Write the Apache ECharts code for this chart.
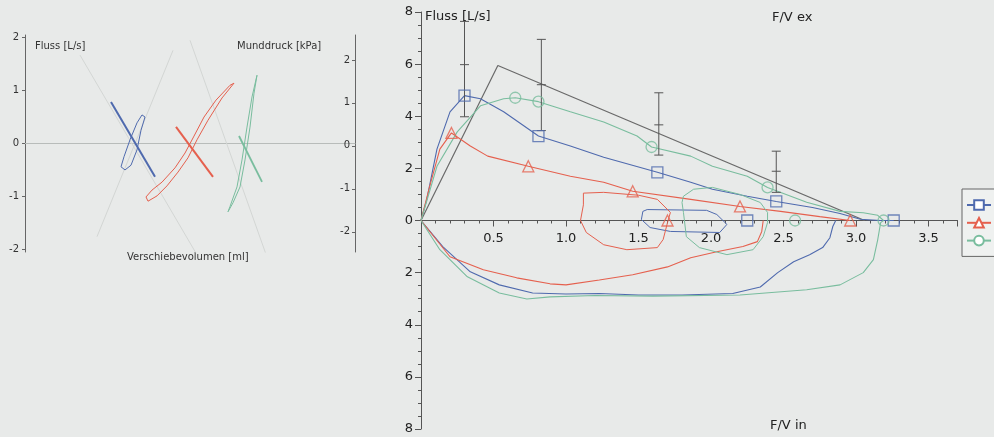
<!DOCTYPE html>
<html><head><meta charset="utf-8">
<script src="https://cdn.jsdelivr.net/npm/echarts@6/dist/echarts.min.js"></script>
<style>html,body{margin:0;padding:0;background:#e8eae9}#c{width:994px;height:437px}</style>
</head><body><div id="c"></div>
<script>
// ---------- Left panel: sRaw loops (flow vs. shift volume) and shutter lines (mouth pressure) ----------
const leftFlowTicks = [-2, -1, 0, 1, 2];
const leftPressTicks = [-2, -1, 0, 1, 2];
const guideA = [[-110, 1.67], [10, -2.2]];
const guideB = [[0, 1.95], [78, -2.2]];
const guideC = [[-93, -1.76], [-17, 1.76]];
const blueLoopL = [[-45, 0.50], [-49, 0.25], [-53, -0.12], [-59, -0.41], [-65, -0.50], [-69, -0.44], [-66, -0.25], [-60, 0.07], [-53, 0.39], [-48, 0.54], [-45, 0.50]];
const redLoopL = [[44, 1.14], [32, 0.86], [18, 0.44], [7, 0.07], [-2, -0.27], [-12, -0.54], [-23, -0.80], [-33, -0.99], [-42, -1.09], [-44, -1.01], [-38, -0.88], [-28, -0.73], [-15, -0.46], [-5, -0.18], [4, 0.14], [14, 0.50], [26, 0.82], [40, 1.10], [44, 1.14]];
const greenLoopL = [[67, 1.29], [64, 0.95], [60, 0.31], [55, -0.31], [50, -0.82], [43, -1.12], [38, -1.29], [40, -1.19], [47, -0.82], [52, -0.31], [57, 0.31], [62, 0.88], [67, 1.29]];
const blueShutter = [[-79, 1.02], [-35, -0.72]];
const redShutter = [[-14, 0.44], [23, -0.72]];
const greenShutter = [[49, 0.23], [72, -0.84]];

// ---------- Right panel: flow-volume curves (expiration up, inspiration down) ----------
const xTickLabels = ['0.5', '1.0', '1.5', '2.0', '2.5', '3.0', '3.5'];
const predicted = [[0, 0], [0.53, 5.95], [3.06, 0]];
// [volume, low, mid, high]
const errorBars = [[0.30, 3.98, 5.98, 7.64], [0.83, 3.45, 5.21, 6.95], [1.64, 2.51, 3.67, 4.90], [2.45, 1.08, 1.89, 2.66]];

const blueEx = [[0, 0], [0.04, 0.81], [0.11, 2.74], [0.20, 4.17], [0.30, 4.79], [0.41, 4.67], [0.57, 4.17], [0.81, 3.24], [1.03, 2.86], [1.26, 2.43], [1.63, 1.85], [1.86, 1.47], [2.01, 1.20], [2.25, 0.93], [2.45, 0.73], [2.70, 0.50], [2.89, 0.27], [3.03, 0.05], [3.17, 0.0], [3.26, 0]];
const blueIn = [[0, 0], [0.15, 1.0], [0.34, 1.97], [0.54, 2.47], [0.77, 2.78], [1.0, 2.82], [1.23, 2.80], [1.5, 2.86], [1.8, 2.86], [2.15, 2.80], [2.34, 2.55], [2.46, 2.0], [2.57, 1.58], [2.68, 1.31], [2.77, 1.04], [2.82, 0.66], [2.84, 0.23], [2.86, 0]];
const blueTidal = [[1.56, 0.42], [1.97, 0.39], [2.04, 0.23], [2.11, -0.15], [2.06, -0.46], [1.72, -0.42], [1.58, -0.27], [1.52, 0.04], [1.53, 0.35], [1.56, 0.42]];
const blueMarks = [[0.30, 4.79], [0.81, 3.24], [1.63, 1.85], [2.45, 0.73], [2.25, 0], [3.26, 0]];

const redEx = [[0, 0], [0.06, 1.31], [0.13, 2.74], [0.21, 3.36], [0.34, 2.86], [0.46, 2.47], [0.74, 2.08], [1.03, 1.70], [1.26, 1.47], [1.46, 1.12], [1.86, 0.81], [2.20, 0.54], [2.48, 0.35], [2.75, 0.15], [2.96, 0]];
const redIn = [[0, 0], [0.20, 1.39], [0.43, 1.89], [0.66, 2.20], [0.89, 2.43], [1.0, 2.47], [1.23, 2.28], [1.46, 2.08], [1.70, 1.78], [1.86, 1.43], [2.04, 1.20], [2.22, 1.0], [2.32, 0.81], [2.35, 0.42], [2.36, 0]];
const redTidal = [[1.10, 0.0], [1.12, 0.6], [1.12, 1.05], [1.26, 1.08], [1.50, 0.97], [1.63, 0.81], [1.72, 0.31], [1.70, -0.08], [1.67, -0.73], [1.63, -1.04], [1.42, -1.12], [1.26, -0.93], [1.14, -0.46], [1.10, 0.0]];
const redMarks = [[0.21, 3.36], [0.74, 2.08], [1.46, 1.12], [2.20, 0.54], [1.70, 0], [2.96, 0]];

const greenEx = [[0, 0], [0.11, 2.08], [0.25, 3.40], [0.41, 4.40], [0.57, 4.67], [0.65, 4.71], [0.81, 4.56], [1.03, 4.17], [1.26, 3.78], [1.49, 3.24], [1.59, 2.82], [1.86, 2.47], [2.01, 2.08], [2.25, 1.70], [2.39, 1.27], [2.66, 0.70], [2.89, 0.35], [3.05, 0.30], [3.15, 0.20], [3.19, 0]];
const greenIn = [[0, 0], [0.13, 1.12], [0.32, 2.16], [0.54, 2.78], [0.73, 3.01], [0.89, 2.93], [1.2, 2.88], [1.6, 2.90], [2.2, 2.86], [2.66, 2.66], [2.89, 2.47], [3.05, 2.0], [3.12, 1.5], [3.15, 0.73], [3.17, 0.08], [3.19, 0]];
const greenTidal = [[1.81, 0.93], [1.80, 0.69], [1.81, 0.31], [1.83, -0.62], [1.92, -1.04], [2.11, -1.31], [2.29, -1.12], [2.36, -0.62], [2.39, -0.08], [2.39, 0.31], [2.34, 0.69], [2.20, 1.0], [2.01, 1.27], [1.88, 1.20], [1.81, 0.93]];
const greenMarks = [[0.65, 4.71], [0.81, 4.56], [1.59, 2.82], [2.39, 1.27], [2.58, 0], [3.19, 0]];

const seriesNames = ['Messung 1', 'Messung 2', 'Messung 3'];

// ---------- styles ----------
const FONT = 'DejaVu Sans';
const C_BLUE = '#4f6aae', C_RED = '#e5604e', C_GREEN = '#79bd9e', C_GRAY = '#6a6a6a';
const EX_X = 1, EX_Y = 2, IN_X = 2, IN_Y = 3;

function lineS(name, data, color, xi, yi, width, extra) {
  return Object.assign({
    name: name, type: 'line', data: data, xAxisIndex: xi, yAxisIndex: yi,
    symbol: 'none', smooth: false, silent: true, animation: false,
    lineStyle: { color: color, width: width }, itemStyle: { color: color }, z: 3
  }, extra || {});
}
function curveWithIcon(name, data, color, icon) {
  return lineS(name, data.map(p => ({ value: p, symbol: 'none' })), color, EX_X, EX_Y, 1.1, {
    symbol: icon, symbolSize: 10, showSymbol: true,
    itemStyle: { color: color, borderColor: color, borderWidth: 1.2 }
  });
}
function marks(data, color, icon) {
  return {
    type: 'scatter', data: data, xAxisIndex: EX_X, yAxisIndex: EX_Y, symbol: icon, symbolSize: 11, clip: false,
    itemStyle: { color: 'rgba(0,0,0,0)', borderColor: color, borderWidth: 1.3 }, silent: true, animation: false, z: 5
  };
}

const chart = echarts.init(document.getElementById('c'));
chart.setOption({
  backgroundColor: '#e8eae9',
  animation: false,
  textStyle: { fontFamily: FONT },
  grid: [
    { left: 25, width: 330, top: 35, height: 217 },
    { left: 421, right: 36.5, top: 12, height: 208.5 },
    { left: 421, right: 36.5, top: 220.5, height: 208.5 }
  ],
  xAxis: [
    { type: 'value', gridIndex: 0, min: -165, max: 165, splitLine: { show: false },
      axisLine: { onZero: true, lineStyle: { color: '#b8bcba', width: 1 } }, axisTick: { show: false }, axisLabel: { show: false } },
    { type: 'value', gridIndex: 1, min: 0, max: 3.7, interval: 0.5, splitLine: { show: false },
      axisLine: { onZero: false, lineStyle: { color: '#555', width: 1 } },
      axisTick: { show: true, length: 6, lineStyle: { color: '#555' } },
      minorTick: { show: true, splitNumber: 5, length: 3, lineStyle: { color: '#555' } },
      axisLabel: { fontSize: 13, color: '#222', margin: 12, fontFamily: FONT, showMaxLabel: false,
        formatter: v => { const k = v / 0.5, i = Math.round(k) - 1; return Math.abs(k - Math.round(k)) < 1e-6 && i >= 0 && i < xTickLabels.length ? xTickLabels[i] : ''; } } },
    { type: 'value', gridIndex: 2, min: 0, max: 3.7, show: false }
  ],
  yAxis: [
    { type: 'value', gridIndex: 0, min: -2.05, max: 2.05, splitLine: { show: false },
      axisLine: { show: true, onZero: false, lineStyle: { color: '#666' } },
      axisTick: { show: true, length: 3, customValues: leftFlowTicks, lineStyle: { color: '#666' } },
      axisLabel: { customValues: leftFlowTicks, fontSize: 10, color: '#333', margin: 6, fontFamily: FONT } },
    { type: 'value', gridIndex: 0, position: 'right', min: -2.47, max: 2.58, splitLine: { show: false },
      axisLine: { show: true, onZero: false, lineStyle: { color: '#666' } },
      axisTick: { show: true, inside: true, length: 3, customValues: leftPressTicks, lineStyle: { color: '#666' } },
      axisLabel: { customValues: leftPressTicks, inside: true, fontSize: 10, color: '#333', margin: 5, fontFamily: FONT } },
    { type: 'value', gridIndex: 1, min: 0, max: 8, interval: 2, splitLine: { show: false },
      axisLine: { show: true, onZero: false, lineStyle: { color: '#555' } },
      axisTick: { show: true, length: 6, lineStyle: { color: '#555' } },
      minorTick: { show: true, splitNumber: 4, length: 3, lineStyle: { color: '#555' } },
      axisLabel: { fontSize: 13, color: '#222', margin: 8, fontFamily: FONT } },
    { type: 'value', gridIndex: 2, min: 0, max: 8, interval: 2, inverse: true, splitLine: { show: false },
      axisLine: { show: true, onZero: false, lineStyle: { color: '#555' } },
      axisTick: { show: true, length: 6, lineStyle: { color: '#555' } },
      minorTick: { show: true, splitNumber: 4, length: 3, lineStyle: { color: '#555' } },
      axisLabel: { fontSize: 13, color: '#222', margin: 8, fontFamily: FONT, showMinLabel: false } }
  ],
  legend: {
    data: seriesNames, orient: 'vertical', left: 962, top: 189, itemWidth: 24, itemHeight: 12, itemGap: 6,
    padding: [10, 40, 10, 4], borderColor: '#666', borderWidth: 1, backgroundColor: '#eff1f0',
    formatter: () => '', selectedMode: false, textStyle: { fontSize: 1 }
  },
  graphic: [
    { type: 'text', left: 35, top: 41, style: { text: 'Fluss [L/s]', font: '10px "DejaVu Sans"', fill: '#333' } },
    { type: 'text', left: 237, top: 41, style: { text: 'Munddruck [kPa]', font: '10px "DejaVu Sans"', fill: '#333' } },
    { type: 'text', left: 127, top: 252, style: { text: 'Verschiebevolumen [ml]', font: '10px "DejaVu Sans"', fill: '#333' } },
    { type: 'text', left: 425, top: 10, style: { text: 'Fluss [L/s]', font: '13px "DejaVu Sans"', fill: '#222' } },
    { type: 'text', left: 772, top: 11, style: { text: 'F/V ex', font: '13px "DejaVu Sans"', fill: '#222' } },
    { type: 'text', left: 770, top: 419, style: { text: 'F/V in', font: '13px "DejaVu Sans"', fill: '#222' } }
  ],
  series: [
    lineS('', guideA, '#d3d6d4', 0, 0, 1),
    lineS('', guideB, '#d3d6d4', 0, 0, 1),
    lineS('', guideC, '#d3d6d4', 0, 0, 1),
    lineS('', blueLoopL, C_BLUE, 0, 0, 1),
    lineS('', redLoopL, C_RED, 0, 0, 1),
    lineS('', greenLoopL, C_GREEN, 0, 0, 1),
    lineS('', blueShutter, C_BLUE, 0, 1, 2),
    lineS('', redShutter, C_RED, 0, 1, 2),
    lineS('', greenShutter, C_GREEN, 0, 1, 1.8),
    lineS('', predicted, C_GRAY, EX_X, EX_Y, 1.2),
    {
      type: 'custom', xAxisIndex: EX_X, yAxisIndex: EX_Y, data: errorBars, silent: true, animation: false, z: 4,
      encode: { x: 0, y: [1, 2, 3] },
      renderItem: (params, api) => {
        const x = api.value(0);
        const lo = api.coord([x, api.value(1)]);
        const mid = api.coord([x, api.value(2)]);
        const hi = api.coord([x, api.value(3)]);
        const w = 4.5, st = { stroke: '#555', lineWidth: 1 };
        return { type: 'group', children: [
          { type: 'line', shape: { x1: lo[0], y1: lo[1], x2: hi[0], y2: hi[1] }, style: st },
          { type: 'line', shape: { x1: lo[0] - w, y1: lo[1], x2: lo[0] + w, y2: lo[1] }, style: st },
          { type: 'line', shape: { x1: mid[0] - w, y1: mid[1], x2: mid[0] + w, y2: mid[1] }, style: st },
          { type: 'line', shape: { x1: hi[0] - w, y1: hi[1], x2: hi[0] + w, y2: hi[1] }, style: st }
        ] };
      }
    },
    curveWithIcon(seriesNames[0], blueEx, C_BLUE, 'emptyRect'),
    lineS('', blueIn, C_BLUE, IN_X, IN_Y, 1.1),
    lineS('', blueTidal, C_BLUE, EX_X, EX_Y, 1, { clip: false }),
    curveWithIcon(seriesNames[1], redEx, C_RED, 'emptyTriangle'),
    lineS('', redIn, C_RED, IN_X, IN_Y, 1.1),
    lineS('', redTidal, C_RED, EX_X, EX_Y, 1, { clip: false }),
    curveWithIcon(seriesNames[2], greenEx, C_GREEN, 'emptyCircle'),
    lineS('', greenIn, C_GREEN, IN_X, IN_Y, 1.1),
    lineS('', greenTidal, C_GREEN, EX_X, EX_Y, 1, { clip: false }),
    marks(blueMarks, C_BLUE, 'rect'),
    marks(redMarks, C_RED, 'triangle'),
    marks(greenMarks, C_GREEN, 'circle')
  ]
});
</script>
</body></html>
